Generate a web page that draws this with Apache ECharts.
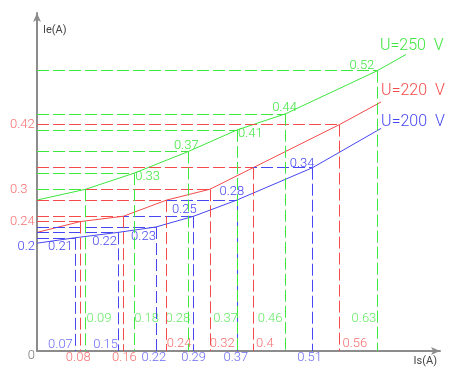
<!DOCTYPE html>
<html>
<head>
<meta charset="utf-8">
<script src="https://cdn.jsdelivr.net/npm/echarts@6/dist/echarts.min.js"></script>
<style>
  html, body { margin: 0; background: #fff; }
  #chart { width: 455px; height: 368px; }
</style>
</head>
<body>
<div id="chart"></div>
<script>
// curve points: first = start on the Ie axis, last = end of the drawn curve
const blueIs = [0, 0.07, 0.15, 0.22, 0.29, 0.37, 0.51, 0.637];
const blueIe = [0.2, 0.21, 0.22, 0.23, 0.25, 0.28, 0.34, 0.413];
const redIs = [0, 0.08, 0.16, 0.24, 0.32, 0.4, 0.56, 0.637];
const redIe = [0.22, 0.24, 0.25, 0.28, 0.3, 0.34, 0.42, 0.462];
const greenIs = [0, 0.09, 0.18, 0.28, 0.37, 0.46, 0.63, 0.683];
const greenIe = [0.28, 0.3, 0.33, 0.37, 0.41, 0.44, 0.52, 0.55];
const curveNames = ['U=200  V', 'U=220  V', 'U=250  V'];
const redAxisIe = [0.42, 0.3, 0.24];

const BLUE = '#4646f2';
const RED = '#f44a4a';
const GREEN = '#3ee63e';
const FONT = 'Roboto';

function tag(dx, dy, align, color, size) {
  return {
    show: true,
    position: [dx, dy],
    align: align,
    verticalAlign: 'middle',
    color: color,
    fontFamily: FONT,
    fontWeight: 300,
    fontSize: size || 13
  };
}

// tags: index -> [dx, dy, align]
function curve(name, xs, ys, color, tags, endTag) {
  const data = xs.map(function (x, i) {
    const item = { value: [x, ys[i]] };
    if (tags[i]) {
      item.label = tag(tags[i][0], tags[i][1], tags[i][2], color);
      item.label.formatter = String(ys[i]);
    }
    return item;
  });
  const last = data[data.length - 1];
  last.label = tag(endTag[0], endTag[1], 'left', color, 16);
  last.label.formatter = name;

  const guides = [];
  for (let i = 1; i < xs.length - 1; i++) {
    guides.push([{ coord: [0, ys[i]] }, { coord: [xs[i], ys[i]] }]);
    guides.push([{ coord: [xs[i], ys[i]] }, { coord: [xs[i], 0] }]);
  }

  return {
    type: 'line',
    name: name,
    data: data,
    symbol: 'circle',
    symbolSize: 0,
    itemStyle: { color: color },
    lineStyle: { color: color, width: 1 },
    label: { show: false },
    z: 3,
    markLine: {
      silent: true,
      symbol: ['none', 'none'],
      label: { show: false },
      lineStyle: { color: color, width: 1, type: [12, 4] },
      emphasis: { disabled: true },
      data: guides
    }
  };
}

// value labels along the Is axis
function axisTags(xs, color, place) {
  return {
    type: 'scatter',
    symbolSize: 0,
    silent: true,
    data: xs.slice(1, xs.length - 1).map(function (x, i) {
      const p = place[i];
      const lab = tag(p[0], p[1], p[2], color);
      lab.formatter = String(x);
      return { value: [x, 0], label: lab };
    })
  };
}

const myChart = echarts.init(document.getElementById('chart'));

const option = {
  animation: false,
  grid: { left: 37, right: 15, top: 13, bottom: 17 },
  xAxis: {
    type: 'value',
    min: 0,
    max: 0.746,
    name: 'Is(A)',
    nameLocation: 'end',
    nameGap: -3,
    nameTextStyle: {
      align: 'right', verticalAlign: 'top', padding: [5, 0, 0, 0],
      color: '#444', fontFamily: FONT, fontSize: 11
    },
    axisLine: {
      lineStyle: { color: '#8c8c8c', width: 2 },
      symbol: ['none', 'arrow'],
      symbolSize: [6, 9]
    },
    axisTick: { show: false },
    axisLabel: { show: false },
    splitLine: { show: false }
  },
  yAxis: {
    type: 'value',
    min: 0,
    max: 0.627,
    name: 'Ie(A)',
    nameLocation: 'end',
    nameGap: -12,
    nameTextStyle: {
      align: 'left', verticalAlign: 'top', padding: [0, 0, 0, 6],
      color: '#444', fontFamily: FONT, fontSize: 11
    },
    axisLine: {
      lineStyle: { color: '#8c8c8c', width: 2 },
      symbol: ['none', 'arrow'],
      symbolSize: [6, 9]
    },
    axisTick: { show: false },
    axisLabel: { show: false },
    splitLine: { show: false }
  },
  series: [
    curve(curveNames[0], blueIs, blueIe, BLUE, {
      0: [-2, 4, 'right'],
      1: [-2, 9, 'right'],
      2: [-1, 9, 'right'],
      3: [0, 10, 'right'],
      4: [3, -6, 'right'],
      5: [-5, -8, 'center'],
      6: [2, -4, 'right']
    }, [0, -6]),
    curve(curveNames[1], redIs, redIe, RED, {}, [0, -11]),
    curve(curveNames[2], greenIs, greenIe, GREEN, {
      2: [1, 4, 'left'],
      3: [-2, -6, 'center'],
      4: [1, 4, 'left'],
      5: [-1, -6, 'center'],
      6: [-3, -5, 'right']
    }, [-26, -9]),
    axisTags(blueIs, BLUE, [
      [-2, -6, 'right'], [0, -6, 'right'], [-2, 7, 'center'],
      [0, 7, 'center'], [-1, 7, 'center'], [-3, 7, 'center']
    ]),
    axisTags(redIs, RED, [
      [-2, 7, 'center'], [1, 7, 'center'], [0, -7, 'left'],
      [0, -7, 'left'], [3, -7, 'left'], [3, -7, 'left']
    ]),
    axisTags(greenIs, GREEN, [
      [1, -32, 'left'], [0, -32, 'left'], [2, -32, 'right'],
      [1, -32, 'right'], [-3, -32, 'right'], [-1, -32, 'right']
    ]),
    {
      // red values marked on the Ie axis
      type: 'scatter',
      symbolSize: 0,
      silent: true,
      data: redAxisIe.map(function (v) {
        const lab = tag(-27, 0, 'left', RED);
        lab.formatter = String(v);
        return { value: [0, v], label: lab };
      })
    },
    {
      type: 'scatter',
      symbolSize: 0,
      silent: true,
      data: [{ value: [0, 0], label: Object.assign(tag(-2, 5, 'right', '#555'), { formatter: '0' }) }]
    }
  ]
};

myChart.setOption(option);
window.addEventListener('resize', function () {
  myChart && myChart.resize();
});
</script>
</body>
</html>
